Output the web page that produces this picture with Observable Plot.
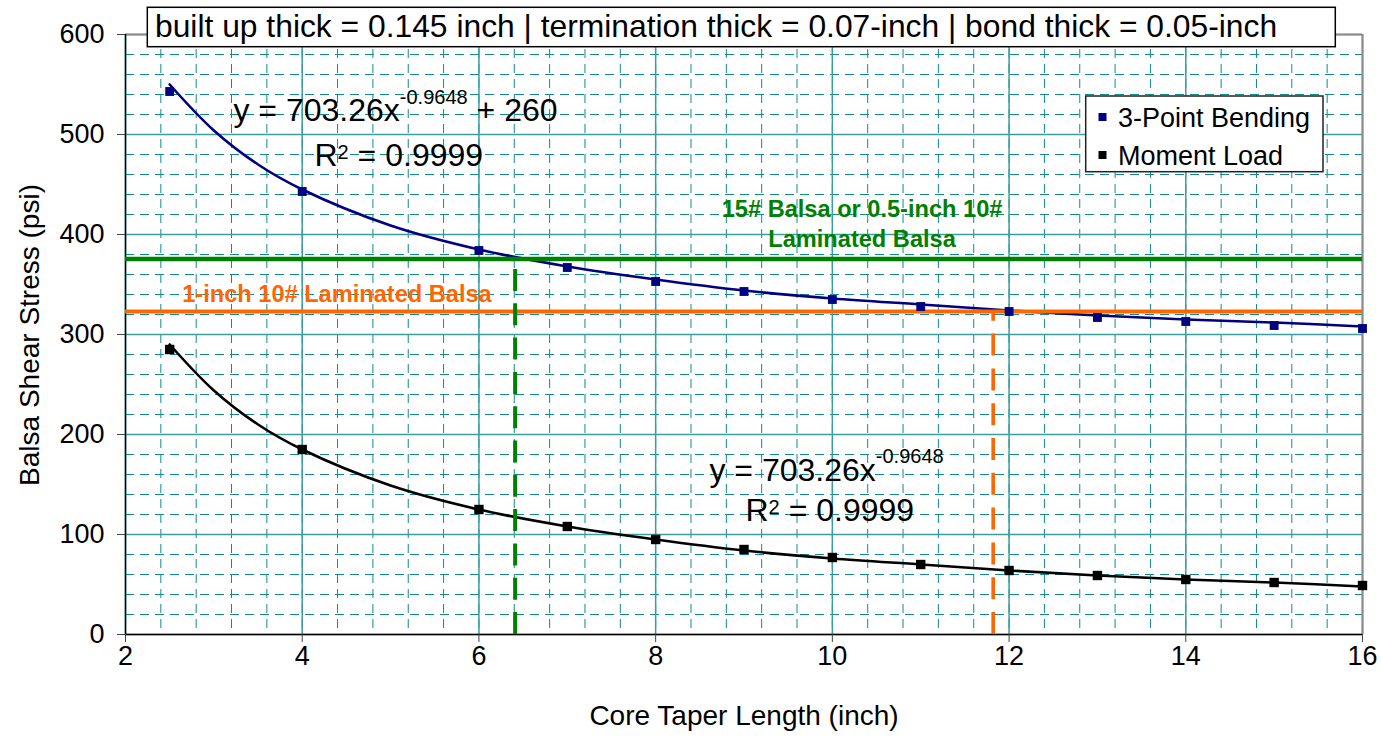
<!DOCTYPE html>
<html><head><meta charset="utf-8">
<script src="https://cdn.jsdelivr.net/npm/d3@7"></script>
<script src="https://cdn.jsdelivr.net/npm/@observablehq/plot@0.6"></script>
<style>
body{margin:0;background:#fff;}
#chart{position:relative;width:1381px;height:739px;}
</style></head><body><div id="chart"></div>
<script>
// ---- data ----
const taperLength   = [2.5, 4, 6, 7, 8, 9, 10, 11, 12, 13, 14, 15, 16];
const bendingStress = [543, 443, 384, 367, 353, 343, 335, 328, 323, 317, 313, 309, 306];
const momentStress  = [285, 185, 125, 108, 95, 85, 77, 70, 64, 59, 55, 52, 49];
// fitted trend curves as drawn in the picture
const trendX        = [2.5, 3, 3.5, 4, 5, 6, 7, 8, 9, 10, 11, 12, 13, 14, 15, 16];
const bendingTrend  = [550, 504, 470, 445, 409, 385, 368, 355, 344, 336, 330, 324, 319, 315, 312, 308];
const momentTrend   = [290, 244, 210, 185, 149, 125, 108, 95, 84, 76, 70, 64, 59, 55, 52, 48];
const xTicks = [2, 4, 6, 8, 10, 12, 14, 16];
const yTicks = [0, 100, 200, 300, 400, 500, 600];
const greenLimit = 375.5, orangeLimit = 323;
const greenCross = 6.41, orangeCross = 11.82;
const seriesNames  = ["3-Point Bending", "Moment Load"];
const seriesColors = ["#000080", "#000000"];
const titleText = "built up thick = 0.145 inch | termination thick = 0.07-inch | bond thick = 0.05-inch";
const xLabel = "Core Taper Length (inch)";
const yLabel = "Balsa Shear Stress (psi)";
const greenLabel  = {x: 10.336, y: 388, text: "15# Balsa or 0.5-inch 10#\nLaminated Balsa"};
const orangeLabel = {x: 2.642, y: 332.3, text: "1-inch 10# Laminated Balsa"};
const equationLabels = [
  {x: 3.222, y: 514, parts: ["y = 703.26x", "-0.9648", " + 260"], rise: 17},
  {x: 4.139, y: 469, parts: ["R", "2", " = 0.9999"], rise: 7},
  {x: 8.609, y: 154, parts: ["y = 703.26x", "-0.9648", ""], rise: 18},
  {x: 9.017, y: 114, parts: ["R", "2", " = 0.9999"], rise: 7}
];

const bendingPts = taperLength.map((x, i) => ({x, y: bendingStress[i]}));
const momentPts  = taperLength.map((x, i) => ({x, y: momentStress[i]}));
const bendingCurve = trendX.map((x, i) => ({x, y: bendingTrend[i]}));
const momentCurve  = trendX.map((x, i) => ({x, y: momentTrend[i]}));
const minorX = d3.range(0, 36).map(i => 2 + i * 0.4);
const minorY = d3.range(0, 31).map(i => i * 20);

const FONT = "'Liberation Sans', Arial, Helvetica, sans-serif";

const svg = Plot.plot({
  width: 1381, height: 739,
  marginLeft: 125, marginRight: 19, marginTop: 34, marginBottom: 105,
  x: {domain: [2, 16]},
  y: {domain: [0, 600]},
  style: {fontFamily: FONT, background: "white", color: "black", overflow: "visible"},
  marks: [
    // grid
    Plot.ruleX(minorX, {stroke: "#108a8a", strokeWidth: 1, strokeDasharray: "9,6"}),
    Plot.ruleY(minorY, {stroke: "#108a8a", strokeWidth: 1, strokeDasharray: "9,6"}),
    Plot.ruleX(xTicks, {stroke: "#3a9e9e", strokeWidth: 1.5}),
    Plot.ruleY(yTicks, {stroke: "#3a9e9e", strokeWidth: 1.5}),
    // plot-area border
    Plot.ruleY([600], {stroke: "#8c8c8c", strokeWidth: 2}),
    Plot.ruleX([16], {stroke: "#8c8c8c", strokeWidth: 2}),
    Plot.ruleX([2], {stroke: "#000", strokeWidth: 1.5}),
    Plot.ruleY([0], {stroke: "#000", strokeWidth: 1.5}),
    // axes
    Plot.axisX({ticks: xTicks, tickSize: 8, tickPadding: 3, fontSize: 27, label: null, stroke: "#444"}),
    Plot.axisY({ticks: yTicks, tickSize: 8, tickPadding: 13, fontSize: 27, label: null, stroke: "#444"}),
    Plot.text([xLabel], {frameAnchor: "bottom", dy: 90, fontSize: 28, text: d => d}),
    // trend curves
    Plot.line(bendingCurve, {x: "x", y: "y", stroke: seriesColors[0], strokeWidth: 2.6, curve: "catmull-rom"}),
    Plot.line(momentCurve, {x: "x", y: "y", stroke: seriesColors[1], strokeWidth: 2.6, curve: "catmull-rom"}),
    // limit lines
    Plot.ruleY([greenLimit], {stroke: "#008000", strokeWidth: 4.5}),
    Plot.ruleY([orangeLimit], {stroke: "#ff6600", strokeWidth: 4}),
    Plot.ruleX([{x: greenCross, y: greenLimit}], {x: "x", y1: d => 0, y2: "y", stroke: "#008000", strokeWidth: 4, strokeDasharray: "22,12.3"}),
    Plot.ruleX([{x: orangeCross, y: orangeLimit}], {x: "x", y1: d => 0, y2: "y", stroke: "#ff6600", strokeWidth: 3.6, strokeDasharray: "22,12.8"}),
    // markers
    Plot.dot(bendingPts, {x: "x", y: "y", symbol: "square", r: 5, fill: seriesColors[0], stroke: "none"}),
    Plot.dot(momentPts, {x: "x", y: "y", symbol: "square", r: 5.3, fill: seriesColors[1], stroke: "none"}),
    // annotations
    Plot.text([greenLabel], {x: "x", y: "y", text: "text", fill: "#008000", fontWeight: "bold", fontSize: 23.6, lineHeight: 1.24, lineAnchor: "bottom", textAnchor: "middle"}),
    Plot.text([orangeLabel], {x: "x", y: "y", text: "text", fill: "#ff6600", fontWeight: "bold", fontSize: 23.6, lineAnchor: "bottom", textAnchor: "start"}),
    Plot.text(equationLabels, {x: "x", y: "y", text: d => d.parts.join(""), fontSize: 32, lineAnchor: "bottom", textAnchor: "start", fill: "black"})
  ]
});

const s = d3.select(svg);

// superscripts in the fit equations
const eqTexts = equationLabels.map(d => d.parts.join(""));
s.selectAll("text").each(function() {
  if (this.querySelector("tspan")) return;
  const i = eqTexts.indexOf(this.textContent);
  if (i < 0) return;
  const d = equationLabels[i];
  const t = d3.select(this);
  t.text(null);
  t.append("tspan").text(d.parts[0]);
  t.append("tspan").attr("font-size", 20).attr("dy", -d.rise).text(d.parts[1]);
  if (d.parts[2]) t.append("tspan").attr("dy", d.rise).text(d.parts[2]);
});

// y-axis title
s.append("text").attr("transform", "translate(39,335) rotate(-90)")
  .attr("text-anchor", "middle").attr("font-size", 28).attr("font-family", FONT)
  .attr("fill", "black").text(yLabel);

// title box
const tg = s.append("g").attr("text-anchor", "start");
tg.append("rect").attr("x", 147.3).attr("y", 7.3).attr("width", 1188).attr("height", 39.4)
  .attr("fill", "white").attr("stroke", "black").attr("stroke-width", 1.5);
tg.append("text").attr("x", 155).attr("y", 37).attr("font-size", 31.8).attr("font-family", FONT)
  .attr("text-anchor", "start").attr("fill", "black").text(titleText);

// legend box
const lg = s.append("g").attr("text-anchor", "start");
lg.append("rect").attr("x", 1085.7).attr("y", 96).attr("width", 237.3).attr("height", 75.7)
  .attr("fill", "white").attr("stroke", "#222").attr("stroke-width", 1.5);
seriesNames.forEach((name, i) => {
  const cy = 117 + i * 38;
  lg.append("rect").attr("x", 1098.5).attr("y", cy - 4).attr("width", 8).attr("height", 8).attr("fill", seriesColors[i]);
  lg.append("text").attr("x", 1118).attr("y", cy + 9.5).attr("font-size", 27).attr("font-family", FONT)
    .attr("text-anchor", "start").attr("fill", "black").text(name);
});

document.getElementById("chart").appendChild(svg);
</script></body></html>
